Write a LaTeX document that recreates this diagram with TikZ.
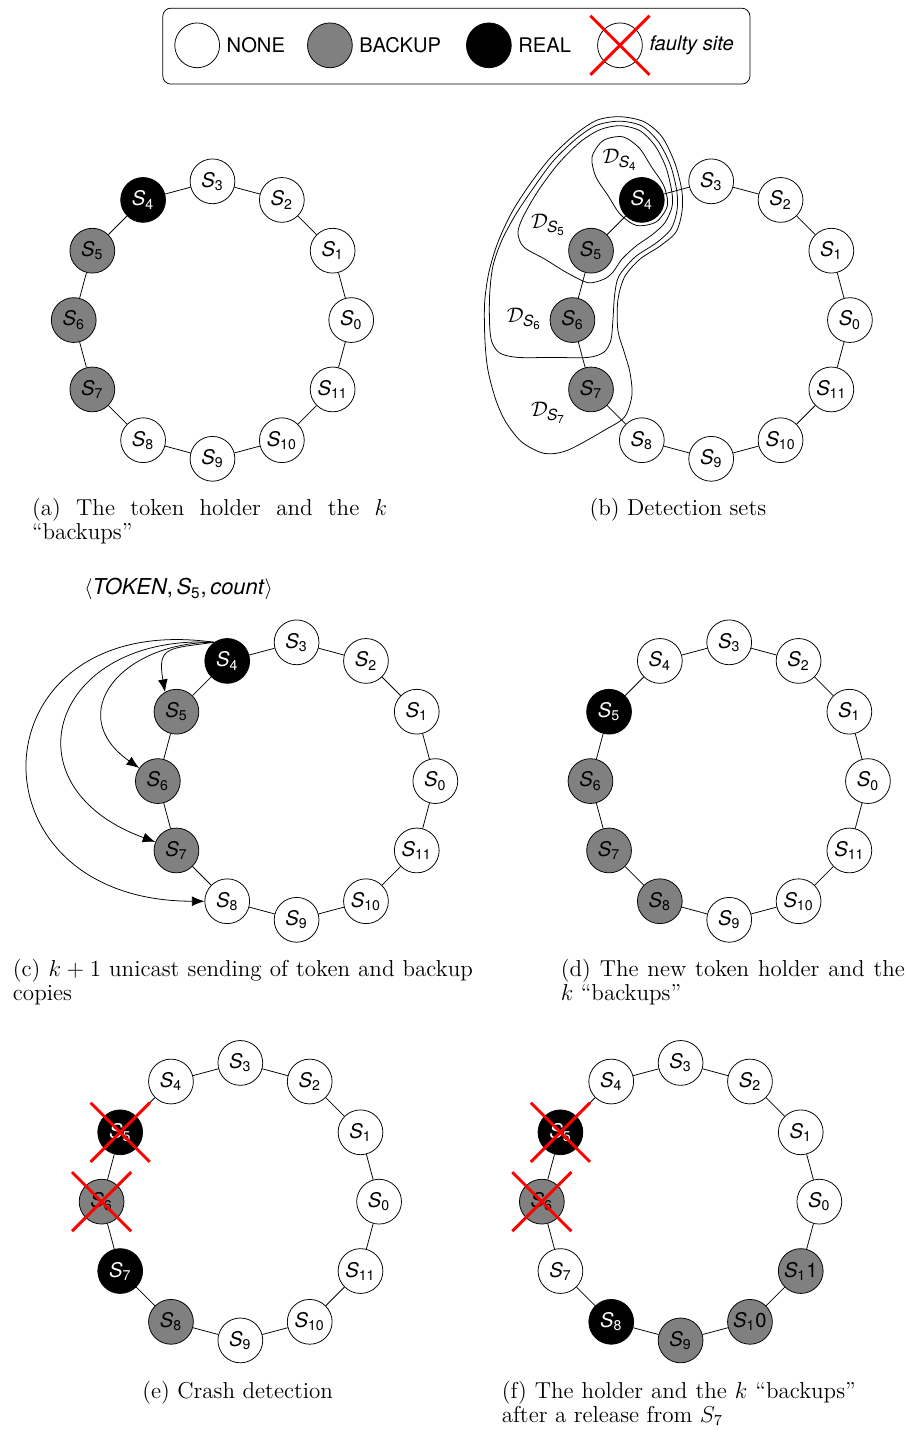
\documentclass[tikz,border=0pt]{standalone}
\usepackage{fontspec}
\setsansfont{TeX Gyre Heros}
\usetikzlibrary{shapes,arrows,arrows.meta,calc,positioning}
\newcommand{\site}[1]{\textit{S}\textsubscript{#1}}
\newcommand{\dset}[1]{$\mathcal{D}_{\mbox{\fontsize{8}{9}\selectfont\itshape S\textsubscript{\upshape #1}}}$}

\begin{document}
\begin{tikzpicture}[>={Latex[length=2.3mm,width=1.8mm]}]

  \tikzstyle{snone} = [draw,circle,fill=white,minimum size=0.82cm,inner sep=0pt,font=\sffamily\fontsize{10.5}{12}\selectfont]
  \tikzstyle{sbackup} = [snone,fill=gray]
  \tikzstyle{sreal} = [snone,fill=black,text=white]
  \tikzstyle{crashed} = [cross out,draw=red,line width=1.5pt,minimum size=1.03cm,inner sep=0pt]
  \tikzstyle{legtext} = [font=\sffamily\fontsize{10.5}{12}\selectfont]
  \tikzstyle{subcap} = [inner sep=0pt,align=justify,font=\fontsize{12}{12.7}\selectfont]

  \useasboundingbox (0,0) rectangle (16.64,26.18);

  % legend
  \draw[rounded corners=0.15cm] (2.98,24.64) rectangle (13.73,26.03);
  \node[snone] (lnone) at (3.61,25.35) {};
  \node[legtext,right=0pt of lnone] (tnone) {NONE};
  \node[sbackup] (lbackup) at (6.04,25.35) {};
  \node[legtext,right=0pt of lbackup] (tbackup) {BACKUP};
  \node[sreal] (lreal) at (8.95,25.35) {};
  \node[legtext,right=0pt of lreal] (treal) {REAL};
  \node[snone] (lfaulty) at (11.35,25.35) {};
  \node[crashed] (lcross) at (lfaulty) {};
  \node[legtext,right=0pt of lfaulty] (tfaulty) {\textit{faulty site}};

  % (a), (b), (c): S4 holds the token
  \foreach \p/\x/\y in {a/3.89/20.32,b/13.02/20.32,c/5.43/11.88}
    \foreach \i/\st in {0/snone,1/snone,2/snone,3/snone,4/sreal,5/sbackup,6/sbackup,7/sbackup,8/snone,9/snone,10/snone,11/snone}
      \node[\st] (\p\i) at ([shift={(\x,\y)}]30*\i:2.54) {\site{\i}};

  % (d)
  \foreach \i/\st in {0/snone,1/snone,2/snone,3/snone,4/snone,5/sreal,6/sbackup,7/sbackup,8/sbackup,9/snone,10/snone,11/snone}
    \node[\st] (d\i) at ([shift={(13.35,11.88)}]30*\i:2.54) {\site{\i}};

  % (e)
  \foreach \i/\st in {0/snone,1/snone,2/snone,3/snone,4/snone,5/sreal,6/sbackup,7/sreal,8/sbackup,9/snone,10/snone,11/snone}
    \node[\st] (e\i) at ([shift={(4.40,4.18)}]30*\i:2.54) {\site{\i}};

  % (f)
  \foreach \i/\st in {0/snone,1/snone,2/snone,3/snone,4/snone,5/sreal,6/sbackup,7/snone,8/sreal,9/sbackup}
    \node[\st] (f\i) at ([shift={(12.46,4.18)}]30*\i:2.54) {\site{\i}};
  \node[sbackup] (f10) at ([shift={(12.46,4.18)}]300:2.54) {\site{1}0};
  \node[sbackup] (f11) at ([shift={(12.46,4.18)}]330:2.54) {\site{1}1};

  % ring links
  \foreach \p in {a,b,c,d,e,f}
    \foreach \i in {0,...,11} {
      \pgfmathtruncatemacro{\j}{mod(\i+1,12)}
      \draw (\p\i) -- (\p\j);
    }

  % detection sets
  \draw plot[smooth cycle] coordinates {(11.045,23.608) (10.840,23.308) (10.906,22.949) (11.129,22.603) (11.355,22.257) (11.655,22.052) (12.014,22.118) (12.219,22.418) (12.153,22.777) (11.928,23.123) (11.704,23.469) (11.404,23.674)};
  \draw plot[smooth cycle] coordinates {(11.349,23.879) (10.983,23.805) (10.617,23.577) (10.214,23.174) (9.848,22.680) (9.574,22.204) (9.482,21.911) (9.592,21.655) (9.976,21.435) (10.361,21.197) (10.763,21.005) (11.056,21.069) (11.221,21.197) (11.386,21.435) (11.642,21.673) (11.953,21.893) (12.173,22.103) (12.301,22.387) (12.301,22.661) (12.191,23.119) (11.990,23.513) (11.715,23.787)};
  \draw plot[smooth cycle] coordinates {(11.349,23.961) (10.928,23.888) (10.562,23.650) (10.141,23.247) (9.775,22.753) (9.445,22.259) (9.189,21.783) (9.024,21.307) (8.964,20.776) (8.964,20.227) (9.006,19.916) (9.153,19.714) (9.482,19.636) (10.123,19.636) (10.763,19.636) (11.056,19.733) (11.184,19.952) (11.221,20.318) (11.252,20.776) (11.331,21.124) (11.624,21.472) (12.008,21.728) (12.283,21.984) (12.392,22.314) (12.392,22.671) (12.274,23.156) (12.054,23.582) (11.752,23.873)};
  \draw plot[smooth cycle] coordinates {(11.349,24.043) (10.928,23.979) (10.525,23.714) (10.086,23.302) (9.702,22.808) (9.372,22.295) (9.116,21.746) (8.951,21.197) (8.872,20.630) (8.878,19.952) (8.933,19.403) (9.079,18.854) (9.262,18.451) (9.555,18.085) (9.971,17.878) (10.397,17.939) (11.069,18.305) (11.435,18.548) (11.569,18.946) (11.532,19.367) (11.435,19.709) (11.312,20.135) (11.312,20.684) (11.435,21.111) (11.715,21.435) (12.081,21.673) (12.374,21.929) (12.484,22.295) (12.484,22.680) (12.356,23.192) (12.118,23.677) (11.788,23.952)};

  \node[legtext] (ds4) at (11.35,23.25) {\dset{4}};
  \node[legtext] (ds5) at (10.04,22.06) {\dset{5}};
  \node[legtext] (ds6) at (9.60,20.34) {\dset{6}};
  \node[legtext] (ds7) at (10.04,18.63) {\dset{7}};

  % (c): token and backup copies sent by S4
  \node[font=\sffamily\fontsize{11.4}{13}\selectfont] (token) at (3.27,15.39) {$\langle$\textit{TOKEN},\,\site{5},\,\textit{count}$\rangle$};
  \draw[->] (c4.125) to[out=188,in=100,looseness=1.7] (c5.120);
  \draw[->] (c4.125) to[out=180,in=145,looseness=1.63] (c6.145);
  \draw[->] (c4.125) to[out=177,in=160,looseness=2.0] (c7.158);
  \draw[->] (c4.125) to[out=172,in=180,looseness=2.4] (c8.west);

  % crashed sites
  \node[crashed] (e5x) at (e5) {};
  \node[crashed] (e6x) at (e6) {};
  \node[crashed] (f5x) at (f5) {};
  \node[crashed] (f6x) at (f6) {};

  % captions
  \node[subcap,text width=6.50cm,anchor=base west] (capa) at (0.58,16.75) {(a) The token holder and the $k$\linebreak “backups”};
  \node[subcap,anchor=base] (capb) at (12.41,16.75) {(b) Detection sets};
  \node[subcap,text width=8.42cm,anchor=base west] (capc) at (0.23,8.31) {(c) $k+1$ unicast sending of token and backup\linebreak copies};
  \node[subcap,text width=6.30cm,anchor=base west] (capd) at (10.26,8.31) {(d) The new token holder and the\linebreak $k$ “backups”};
  \node[subcap,anchor=base] (cape) at (4.35,0.585) {(e) Crash detection};
  \node[subcap,text width=6.48cm,anchor=base west] (capf) at (9.18,0.585) {(f) The holder and the $k$ “backups”\linebreak after a release from $S_7$};

\end{tikzpicture}
\end{document}
